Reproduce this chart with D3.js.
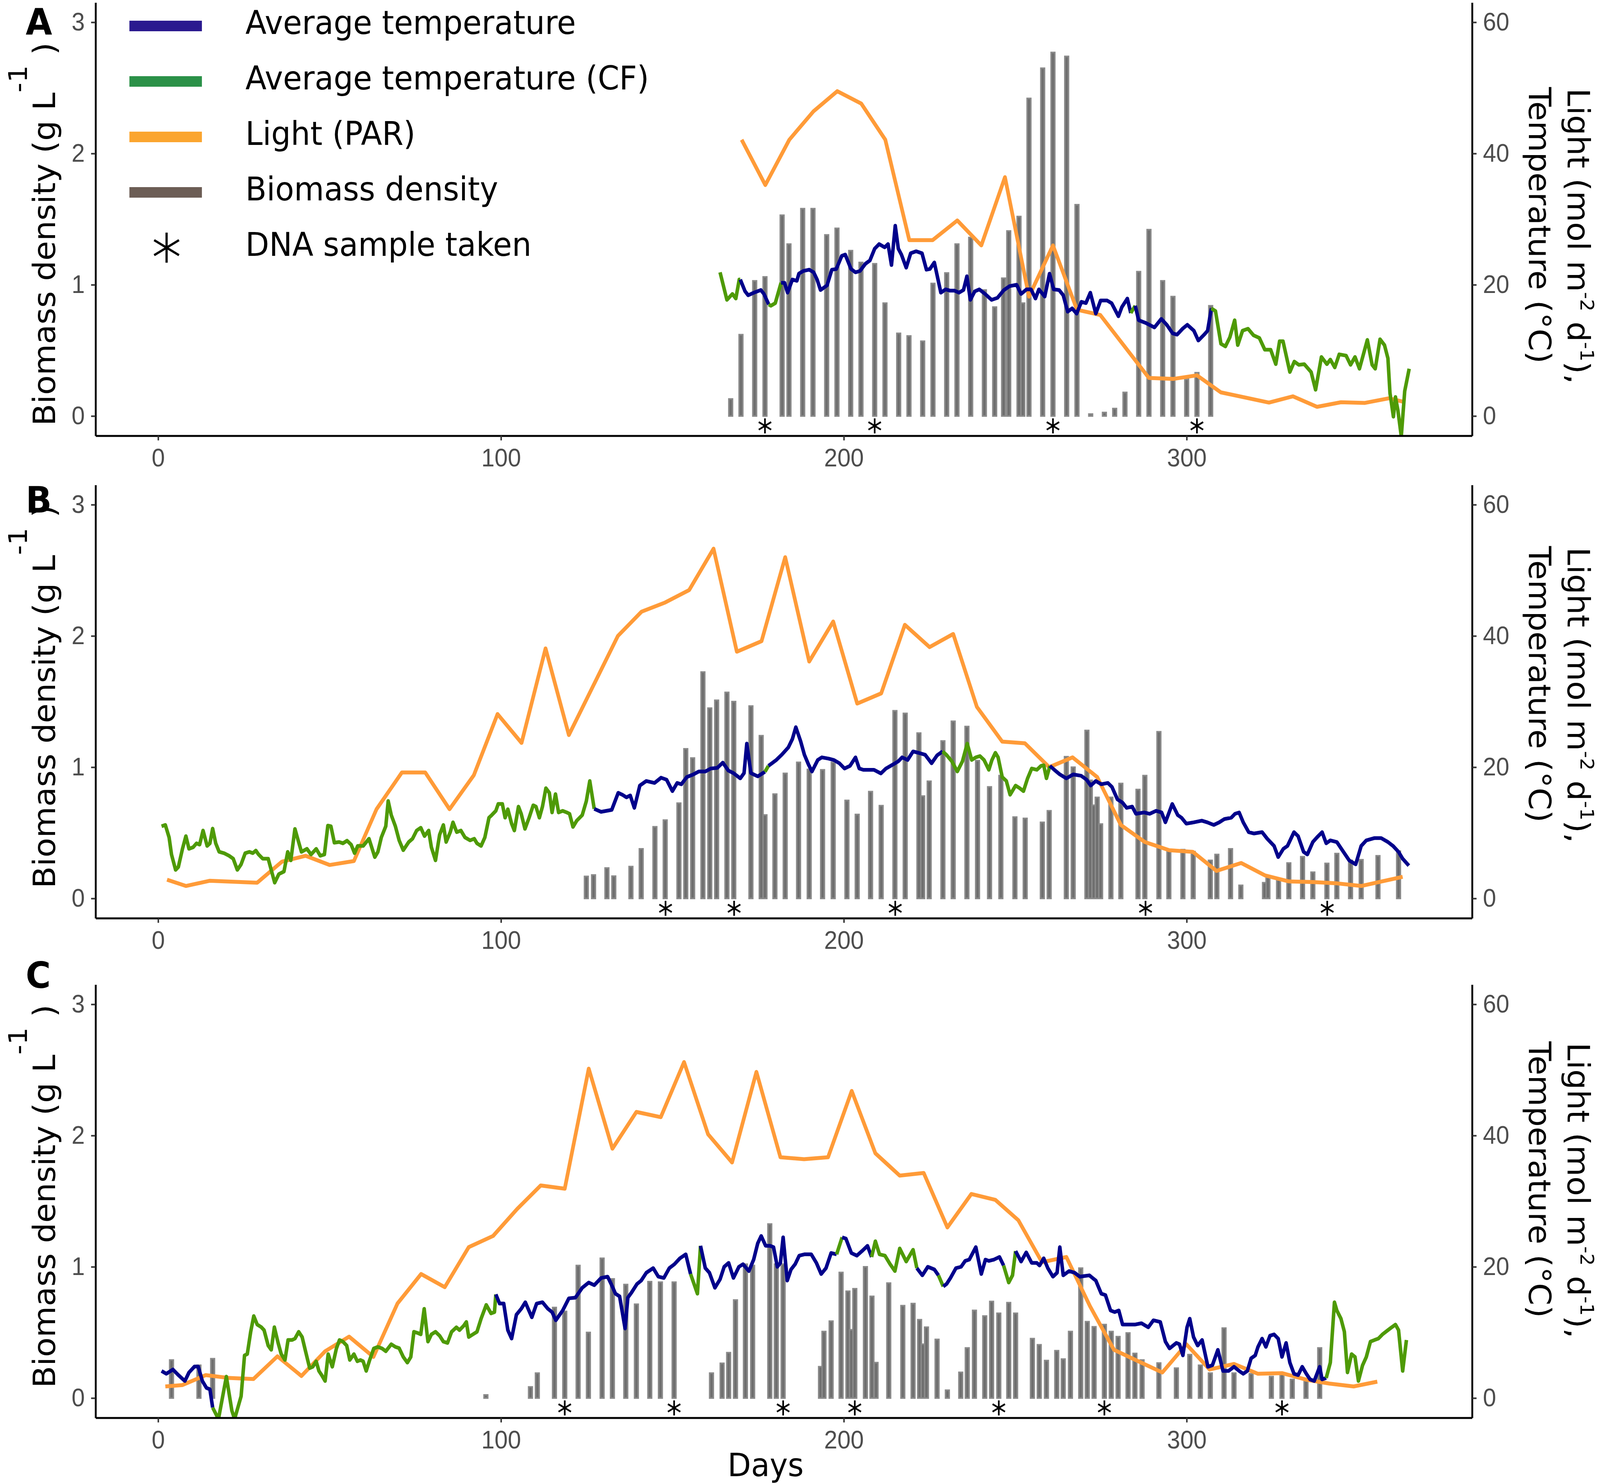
<!DOCTYPE html>
<html>
<head>
<meta charset="utf-8">
<script src="https://cdn.jsdelivr.net/npm/d3@7"></script>
<style>
  html, body { margin: 0; padding: 0; background: #fff; overflow: hidden; }
  svg { display: block; }
</style>
</head>
<body>
<div id="chart"></div>
<script>
// ---------------------------- DATA ---------------------------- //
const xTicks = [0, 100, 200, 300];
const leftTicks = [0, 1, 2, 3];
const rightTicks = [0, 20, 40, 60];

// biomass density (g/L) per sampling day
const barDaysA = [167,170,174,177,182,184,188,191,195,198,202,205,209,212,216,219,223,226,230,233,237,241,244,246.6,248.1,251.1,252.2,254,258,261,265,268,272,276,279,282,286,289,293,296,300,303,307];
const barValsA = [0.13,0.62,1.03,1.06,1.53,1.31,1.58,1.58,1.38,1.43,1.26,1.17,1.16,0.86,0.63,0.61,0.57,1.01,1.09,1.31,1.36,0.96,0.83,1.05,1.41,1.52,0.86,2.42,2.65,2.77,2.74,1.61,0.015,0.027,0.057,0.18,1.10,1.42,1.03,0.91,0.28,0.33,0.84];

const barDaysB = [124.9,127.0,130.9,132.9,137.9,140.9,144.9,147.9,151.9,153.9,155.9,158.9,160.9,162.9,165.9,167.9,172.9,175.9,177.0,179.9,182.9,186.8,189.9,193.8,196.9,200.9,203.9,207.8,210.9,214.9,217.9,221.9,223.0,224.9,228.9,231.9,235.9,239.0,242.5,245.8,249.9,252.9,257.9,259.9,264.9,266.9,270.9,271.9,272.9,273.9,274.9,277.9,280.8,285.8,287.8,291.9,294.8,298.9,301.9,306.9,308.8,312.8,315.8,322.7,323.7,326.8,329.8,333.8,336.8,340.9,343.8,347.8,350.9,355.8,361.8];
const barValsB = [0.168,0.179,0.232,0.17,0.243,0.378,0.546,0.597,0.726,1.14,1.07,1.725,1.45,1.51,1.57,1.50,1.466,1.24,0.636,0.795,0.953,1.037,0.983,0.98,1.037,0.747,0.64,0.814,0.707,1.43,1.41,1.26,0.78,0.893,1.20,1.35,1.31,1.05,0.85,0.936,0.62,0.61,0.58,0.668,1.08,1.0,1.28,0.90,0.71,0.77,0.567,0.77,0.876,0.83,0.936,1.27,0.372,0.372,0.357,0.29,0.335,0.378,0.10,0.12,0.16,0.14,0.27,0.318,0.20,0.267,0.342,0.29,0.295,0.325,0.36];

const barDaysC = [3.9,11.9,15.9,95.6,108.6,110.6,115.6,118.6,122.5,125.5,129.5,132.5,136.4,139.5,143.4,146.5,150.5,161.4,164.5,166.4,168.4,171.3,173.4,178.4,180.3,182.3,193.2,194.2,196.3,199.2,201.2,202.2,203.2,206.3,208.2,209.4,213.1,217.2,220.2,222.1,223.1,224.1,227.2,230.2,234.1,236.0,238.1,241.1,243.1,245.2,248.1,250.1,255.0,257.0,259.1,262.1,264.0,266.1,269.1,271.0,273.0,276.0,278.0,280.0,282.9,284.9,287.0,291.9,297.0,300.9,304.0,306.9,310.9,313.8,318.8,324.7,327.8,330.8,334.8,338.8];
const barValsC = [0.29,0.25,0.30,0.024,0.085,0.19,0.69,0.66,1.01,0.50,1.065,0.908,0.865,0.715,0.887,0.883,0.883,0.19,0.265,0.346,0.747,1.02,1.01,1.326,1.02,1.02,0.239,0.507,0.586,0.957,0.814,0.52,0.833,1.0,0.775,0.27,0.876,0.704,0.72,0.597,0.41,0.54,0.447,0.06,0.196,0.382,0.668,0.625,0.736,0.646,0.727,0.646,0.453,0.406,0.286,0.361,0.297,0.507,0.99,0.582,0.543,0.56,0.507,0.468,0.496,0.34,0.29,0.267,0.228,0.331,0.25,0.19,0.533,0.19,0.185,0.164,0.19,0.142,0.13,0.382];

// light (PAR, mol m-2 d-1)
const lightDaysA = [170.2,177.1,184.1,191.1,198.1,205.1,212.1,219.1,225.9,233.1,240.1,247,254,261,268,274.8,289,296,303,310,324,331,338,345,352,359,363];
const lightValsA = [42.1,35.2,42.1,46.4,49.5,47.6,42.1,26.8,26.8,29.8,26.0,36.4,18.2,26.0,16.2,15.4,5.8,5.65,6.2,3.6,2.05,3.0,1.4,2.1,2.0,2.7,2.2];

const lightDaysB = [2.6,8.1,15.1,28.9,36.1,43.0,50.0,57.1,63.7,71.1,77.9,85.0,92.1,99.0,106.0,113.0,119.8,134.1,141.0,147.9,154.9,162.0,168.8,176.0,182.9,189.9,196.9,203.9,210.9,217.8,225.0,231.9,238.8,246.2,252.8,259.9,266.7,273.9,280.8,287.8,294.9,301.8,308.7,315.9,322.9,329.8,336.8,343.8,350.9,363.0];
const lightValsB = [2.86,1.9,2.7,2.4,5.6,6.5,5.1,5.7,13.6,19.2,19.2,13.6,18.8,28.1,23.7,38.1,24.9,40.0,43.7,45.1,47.0,53.3,37.6,39.2,52.0,36.1,42.2,29.7,31.25,41.7,38.3,40.3,29.2,23.9,23.65,20.0,21.5,18.5,11.2,8.6,7.35,7.1,4.2,5.4,3.5,2.6,2.5,2.3,1.9,3.3];

const lightDaysC = [2.1,7.1,13.9,20.7,27.8,34.8,41.8,48.7,55.7,62.8,69.8,76.7,83.6,90.6,97.7,104.7,111.6,118.6,125.6,132.5,139.5,146.6,153.4,160.4,167.4,174.5,181.5,188.4,195.4,202.3,209.2,216.3,223.3,230.2,237.2,244.2,250.9,257.8,264.9,271.8,278.8,285.9,292.9,299.9,306.7,313.8,320.8,327.8,334.9,341.7,348.7,355.6];
const lightValsC = [1.77,1.98,3.5,3.06,2.9,6.36,3.36,7.13,9.36,6.27,14.4,18.9,16.9,23.0,24.7,28.8,32.4,31.9,50.2,38.0,43.6,42.8,51.2,40.2,35.9,49.7,36.7,36.4,36.7,46.8,37.3,33.9,34.3,26.0,31.1,30.2,27.1,20.7,21.5,14.0,7.35,5.6,3.9,8.2,4.35,5.2,3.7,3.8,2.8,2.2,1.77,2.5];

// average temperature (deg C): [day, value, cf] with cf = 1 for the CF series
const tempA = [
  [163.9,21.9,1],[165.9,17.7,1],[167.5,18.6,1],[168.5,17.9,1],[169.5,20.8,1],
  [169.8,20.8,0],[171.2,19.0,0],[172.1,18.4,0],[173.8,18.8,0],[175.8,19.2,0],[176.7,18.6,0],
  [178.1,17.0,1],[178.7,16.8,1],[180.0,17.2,1],
  [181.7,20.3,0],[182.7,20.3,0],[183.6,18.8,0],[185.0,20.8,0],[186.3,20.6,0],[186.9,21.7,0],[188.2,22.1,0],[189.9,22.3,0],[191.2,21.9,0],[192.2,20.8,0],[193.2,19.2,0],[195.1,19.9,0],[196.5,22.3,0],[197.8,22.4,0],[199.4,24.4,0],[200.4,24.6,0],[202.1,22.4,0],[203.4,21.9,0],[204.7,22.1,0],[206.3,23.2,0],[207.6,23.7,0],[209.0,25.5,0],[210.3,26.2,0],[211.9,25.7,0],[212.9,26.2,0],[213.9,23.0,0],[215.0,29.0,0],[215.9,25.5,0],[216.8,24.6,0],[218.2,22.6,0],[219.5,24.8,0],[221.1,25.1,0],[222.8,24.8,0],[224.1,22.3,0],[225.1,22.4,0],[226.4,23.4,0],[228.3,18.8,0],[229.7,19.3,0],[231.0,19.1,0],[232.3,19.1,0],[233.6,18.8,0],[234.9,19.2,0],[235.9,21.3,0],[236.9,17.7,0],[238.2,19.0,0],[239.5,19.3,0],[241.2,18.6,0],[243.1,17.7,0],[244.8,18.0,0],[246.7,19.2,0],[248.4,19.8,0],[250.4,20.0,0],[251.7,18.6,0],[253.3,19.3,0],[254.6,19.3,0],[255.9,17.9,0],[256.9,19.3,0],[258.6,18.2,0],[260.0,21.7,0],[261.2,19.3,0],[262.8,19.2,0],
  [264.0,18.4,0],[265.3,15.9,0],[266.6,16.4,0],[267.9,15.6,0],[269.3,17.4,0],[270.6,17.2,0],[271.9,18.8,0],[273.5,15.6,0],[274.9,17.6,0],[276.8,17.6,0],[278.1,17.2,0],[280.1,15.2,0],[281.1,16.6,0],[282.7,17.9,0],
  [283.7,15.7,1],
  [285.0,16.8,0],[286.0,14.6,0],[288.0,14.2,0],[290.6,13.5,0],[292.6,14.8,0],[294.2,13.9,0],[295.9,12.6,0],[297.2,12.4,0],[298.8,13.3,0],[300.2,13.9,0],[302.1,13.0,0],[303.4,11.5,0],[305.1,12.4,0],[306.1,13.0,0],
  [307.2,16.4,1],[308.4,16.0,1],[310.0,11.0,1],[311.3,10.6,1],[312.6,12.0,1],[314.0,14.6,1],[314.9,10.8,1],[316.3,13.0,1],[317.9,13.3,1],[319.5,12.3,1],[321.2,11.9,1],[322.8,10.1,1],[324.5,10.1,1],[326.0,7.9,1],[327.1,11.4,1],[328.1,11.4,1],[330.1,6.7,1],[331.4,8.3,1],[332.7,7.8,1],[334.3,7.9,1],[336.3,6.7,1],[337.6,4.0,1],[339.3,9.0,1],[340.9,7.9,1],[341.9,8.6,1],[343.2,7.4,1],[344.5,9.4,1],[346.5,9.2,1],[347.8,7.8,1],[349.1,9.0,1],[350.4,7.2,1],[352.7,11.6,1],[354.1,7.8,1],[355.0,7.2,1],[356.4,11.7,1],[357.7,10.8,1],[358.7,8.8,1],[359.3,3.5,1],[360.3,-0.1,1],[360.9,2.9,1],[361.6,0.9,1],[362.6,-3.1,1],[363.6,3.8,1],[364.9,7.2,1]
];

const tempB = [
  [1.0,11.0,1],[2.1,11.2,1],[3.2,9.3,1],[3.9,6.7,1],[5.1,4.35,1],[5.9,4.8,1],[7.1,7.56,1],[8.1,9.5,1],[9.0,7.56,1],[10.2,7.8,1],[11.2,8.4,1],[12.1,8.2,1],[13.1,10.35,1],[14.3,8.0,1],[15.1,8.4,1],[15.9,10.65,1],[16.8,8.4,1],[17.8,7.1,1],[19.2,6.9,1],[20.7,6.5,1],[21.9,6.06,1],[23.1,4.35,1],[24.2,5.2,1],[25.4,6.9,1],[26.6,7.1,1],[27.6,6.9,1],[28.5,7.3,1],[29.3,6.7,1],[30.5,6.06,1],[32.1,6.06,1],[34.0,2.4,1],[35.2,3.7,1],[36.7,4.1,1],[37.8,7.1,1],[38.7,5.8,1],[39.9,10.6,1],[40.6,9.3,1],[41.8,7.1,1],[43.4,7.56,1],[44.6,6.7,1],[46.1,7.56,1],[47.3,6.5,1],[48.5,6.7,1],[49.5,11.1,1],[50.4,11.0,1],[51.4,8.5,1],[52.8,8.6,1],[53.9,8.4,1],[55.1,8.8,1],[56.3,8.2,1],[57.3,6.9,1],[58.2,8.0,1],[59.8,8.0,1],[61.5,9.1,1],[63.2,6.3,1],[64.1,7.1,1],[65.1,9.3,1],[66.4,11.0,1],[67.1,14.85,1],[68.0,12.7,1],[69.2,11.0,1],[70.3,8.85,1],[71.5,7.35,1],[73.1,8.6,1],[74.2,9.1,1],[75.4,10.35,1],[76.6,10.78,1],[77.7,9.5,1],[78.9,10.35,1],[79.7,7.8,1],[80.9,5.8,1],[82.1,9.7,1],[83.2,11.2,1],[84.0,8.6,1],[85.2,10.1,1],[86.0,11.6,1],[87.1,10.1,1],[88.3,10.35,1],[89.5,9.3,1],[91.0,8.85,1],[92.2,9.1,1],[93.0,8.4,1],[94.2,8.0,1],[95.3,9.3,1],[96.5,12.3,1],[97.3,12.7,1],[98.5,13.35,1],[99.2,14.4,1],[100.4,14.4,1],[101.2,12.3,1],[102.0,13.6,1],[103.1,11.4,1],[103.9,10.35,1],[105.1,14.0,1],[105.9,12.9,1],[107.0,10.6,1],[108.2,12.3,1],[109.4,14.2,1],[110.2,14.0,1],[111.2,12.3,1],[112.1,14.0,1],[113.1,16.8,1],[114.1,16.1,1],[114.9,13.1,1],[115.9,15.9,1],[116.8,13.1,1],[118.0,13.35,1],[119.2,13.1,1],[120.0,12.9,1],[121.0,10.9,1],[122.1,11.85,1],[123.7,12.7,1],[124.9,14.85,1],[125.9,17.9,1],
  [127.2,13.65,0],[129.2,13.2,0],[132.3,13.5,0],[134.2,16.1,0],[135.4,15.8,0],[136.6,15.4,0],[137.7,15.7,0],[138.9,13.8,0],[140.5,17.2,0],[142.4,17.9,0],[144.8,17.6,0],[146.7,18.4,0],[148.3,18.1,0],[150.0,16.35,0],[151.4,17.6,0],[152.6,17.4,0],[154.2,18.5,0],[156.1,18.9,0],[157.7,19.35,0],[159.6,19.35,0],[161.2,19.8,0],[163.1,19.9,0],[164.7,20.7,0],[166.3,19.5,0],[167.8,19.1,0],[169.8,18.3,0],[170.9,19.1,0],[171.7,23.6,0],[172.9,19.1,0],[174.9,18.6,0],[176.4,19.1,0],
  [177.0,19.3,1],
  [178.0,20.2,0],[180.3,21.1,0],[181.9,21.9,0],[183.8,23.0,0],[185.0,24.3,0],[186.0,26.1,0],[187.4,23.95,0],[188.5,21.9,0],[189.7,20.4,0],[190.7,19.35,0],[192.4,21.1,0],[193.6,21.5,0],[195.6,21.3,0],[197.1,21.1,0],[198.7,20.6,0],[200.2,19.8,0],[201.8,20.2,0],[203.4,21.5,0],[204.5,19.8,0],[205.7,19.6,0],[207.3,19.6,0],[208.8,19.6,0],[210.8,19.05,0],[212.3,19.8,0],[214.3,20.4,0],[215.9,20.9,0],[217.0,21.5,0],[218.6,21.1,0],[220.2,22.4,0],[221.7,22.2,0],[223.7,21.9,0],[225.6,20.6,0],[227.2,21.8,0],
  [228.8,22.4,1],[229.9,21.9,1],[231.5,20.9,1],[233.1,19.35,1],[234.6,20.9,1],[236.0,23.6,1],[237.3,21.1,1],[238.5,21.5,1],[239.7,21.7,1],[240.9,21.1,1],[242.3,19.6,1],[243.2,21.1,1],[244.2,22.2,1],[245.0,21.5,1],[246.2,18.5,1],[247.4,17.9,1],[248.5,15.8,1],[250.1,17.2,1],[251.3,16.8,1],[252.4,16.35,1],[253.6,18.3,1],[254.8,19.8,1],[256.3,19.6,1],[257.5,20.2,1],[258.3,20.3,1],[259.1,18.3,1],
  [260.1,20.2,0],[261.4,19.6,0],[263.0,18.9,0],[264.9,18.3,0],[266.9,18.9,0],[269.2,18.7,0],[270.8,18.1,0],[272.0,17.2,0],[273.5,17.9,0],[275.1,17.4,0],[277.0,17.6,0],[278.2,17.0,0],[279.8,15.1,0],[281.3,14.6,0],[282.5,13.8,0],[284.1,14.0,0],[285.2,12.9,0],[287.6,13.1,0],[289.2,12.9,0],[291.1,13.35,0],[292.7,13.1,0],[293.8,11.6,0],[295.8,14.4,0],[297.4,12.7,0],[298.5,12.3,0],[299.9,11.4,0],[302.1,11.6,0],[304.4,11.85,0],[306.0,11.6,0],[307.9,11.2,0],[309.5,11.6,0],[311.0,12.1,0],[313.0,12.3,0],[314.1,12.9,0],[315.3,13.1,0],[316.5,11.6,0],[318.1,10.1,0],[319.6,9.9,0],[322.0,10.1,0],[323.5,9.1,0],[325.5,8.0,0],[326.7,6.3,0],[328.2,7.56,0],[329.4,8.0,0],[331.3,10.1,0],[332.5,9.5,0],[334.1,7.1,0],[335.2,6.7,0],[336.8,8.6,0],[338.0,9.3,0],[339.5,10.1,0],[340.7,8.4,0],[341.9,8.85,0],[343.8,8.6,0],[345.4,7.35,0],[347.4,5.8,0],[349.3,5.2,0],[350.9,8.0,0],[352.4,8.85,0],[354.8,9.2,0],[356.7,9.2,0],[358.7,8.6,0],[360.2,8.0,0],[361.8,7.1,0],[363.0,6.06,0],[364.8,5.0,0]
];

const tempC = [
  [1.0,4.13,0],[2.4,3.7,0],[4.3,4.35,0],[5.9,3.5,0],[7.8,2.6,0],[9.0,3.9,0],[10.6,4.8,0],[11.7,4.8,0],[12.9,2.6,0],[14.1,1.55,0],[15.1,1.34,0],
  [15.9,-1.45,1],[17.6,-3.2,1],[19.9,3.27,1],[21.5,-1.9,1],[22.3,-3.2,1],[24.2,0.27,1],[25.2,6.5,1],[26.0,6.7,1],[27.0,10.1,1],[27.9,12.5,1],[28.9,11.2,1],[30.1,10.8,1],[30.9,10.35,1],[32.1,8.0,1],[33.0,7.35,1],[33.9,10.8,1],[35.0,8.4,1],[35.9,6.7,1],[37.0,5.8,1],[37.9,8.85,1],[39.1,8.85,1],[39.9,9.06,1],[41.0,10.1,1],[42.0,9.3,1],[43.0,7.13,1],[44.2,4.56,1],[45.1,4.77,1],[46.1,5.6,1],[46.9,4.13,1],[47.7,3.5,1],[48.7,2.6,1],[49.6,6.7,1],[50.8,4.77,1],[52.0,7.56,1],[52.9,8.85,1],[53.9,8.6,1],[55.0,8.0,1],[55.9,5.8,1],[57.1,6.7,1],[58.1,5.6,1],[59.0,5.8,1],[59.8,5.6,1],[60.7,4.13,1],[61.7,5.8,1],[62.9,7.56,1],[64.1,7.8,1],[65.3,7.56,1],[66.4,7.13,1],[68.0,8.2,1],[69.2,7.8,1],[70.3,7.6,1],[71.5,6.27,1],[72.7,5.4,1],[73.7,6.27,1],[74.6,10.1,1],[75.8,9.9,1],[76.6,9.7,1],[77.6,13.6,1],[78.7,8.6,1],[79.7,9.7,1],[80.9,10.1,1],[82.1,9.5,1],[83.2,8.6,1],[84.4,8.4,1],[85.6,10.1,1],[87.0,10.78,1],[87.9,10.35,1],[89.1,11.0,1],[89.9,11.6,1],[90.6,9.3,1],[91.8,9.7,1],[93.0,10.1,1],[94.2,12.1,1],[95.7,14.2,1],[97.1,12.9,1],[98.1,13.1,1],
  [98.5,15.8,0],[99.6,14.4,0],[100.8,14.4,0],[102.0,10.35,0],[103.1,9.06,0],[104.5,12.7,0],[105.9,13.6,0],[107.1,14.6,0],[109.0,12.3,0],[110.4,14.4,0],[112.1,14.6,0],[113.7,13.6,0],[114.9,13.1,0],[116.0,11.85,0],[118.0,13.35,0],[119.8,15.2,0],[121.7,15.3,0],[123.7,16.8,0],[125.6,17.6,0],[127.2,17.2,0],[129.2,18.3,0],[131.1,18.5,0],[132.3,17.2,0],[133.4,15.9,0],[134.6,15.5,0],[136.2,10.6,0],[137.0,15.3,0],[138.1,16.1,0],[139.7,17.4,0],[140.9,17.9,0],[142.4,19.1,0],[144.4,19.8,0],[145.9,18.5,0],[147.5,18.3,0],[149.1,19.8,0],[150.6,20.4,0],[152.2,21.3,0],[153.9,21.9,0],
  [155.3,18.9,1],[157.3,15.9,1],
  [158.2,23.2,0],[159.6,19.8,0],[160.8,19.1,0],[162.4,16.8,0],[163.9,18.1,0],[165.1,20.0,0],[166.4,20.6,0],[167.8,18.3,0],[169.4,20.0,0],[170.6,20.4,0],[172.3,19.35,0],[173.7,21.1,0],[174.9,23.6,0],[175.9,24.7,0],[177.2,23.2,0],[178.5,23.2,0],[179.5,23.0,0],[180.6,20.0,0],[181.5,20.6,0],[182.3,24.5,0],[183.5,17.9,0],[184.6,19.6,0],[185.8,20.4,0],[187.0,21.7,0],[188.5,21.9,0],[190.5,21.9,0],[192.0,20.6,0],[193.4,18.9,0],[194.8,19.8,0],[196.3,22.1,0],
  [197.9,21.9,1],
  [199.5,24.5,0],[200.6,24.3,0],[202.2,22.1,0],[203.8,21.7,0],[205.3,22.4,0],[206.9,23.2,0],
  [208.1,21.5,1],[209.2,23.9,1],[210.4,21.9,1],[212.0,21.7,1],[213.5,20.4,1],[214.9,19.35,1],[216.3,22.8,1],[218.2,20.8,1],[220.2,22.6,1],
  [221.3,19.8,0],[222.9,18.7,0],[224.5,20.0,0],[226.4,19.6,0],
  [227.6,18.7,1],
  [229.0,17.0,0],[230.0,17.4,0],[231.1,18.3,0],[232.7,19.8,0],[234.2,20.0,0],[235.4,20.9,0],[236.6,21.1,0],[238.5,23.0,0],[240.1,18.9,0],[241.3,21.1,0],[242.3,20.9,0],[243.8,21.1,0],[245.4,21.5,0],
  [246.6,20.2,1],[248.1,17.6,1],[249.2,18.7,1],
  [250.1,22.4,0],[251.7,20.8,0],[253.2,22.2,0],[254.8,20.6,0],[256.3,20.6,0],[257.1,20.2,0],[258.3,21.3,0],[259.5,19.8,0],[261.0,18.5,0],[262.2,19.1,0],[263.0,23.0,0],[264.0,18.7,0],[265.7,19.35,0],[267.3,19.1,0],[268.8,18.5,0],[271.6,18.7,0],[273.5,17.9,0],[275.1,15.9,0],[276.3,15.7,0],[277.8,13.35,0],[279.0,13.1,0],[280.2,13.35,0],[281.3,11.2,0],[282.9,11.2,0],[284.9,11.2,0],[286.8,11.4,0],[288.8,10.78,0],[290.3,11.85,0],[292.3,11.6,0],[293.8,8.6,0],[295.0,7.56,0],[297.0,8.4,0],[297.9,8.2,0],[298.9,6.5,0],[300.1,10.78,0],[300.9,12.1,0],[302.0,9.3,0],[303.2,8.0,0],[304.5,8.85,0],[306.2,4.77,0],[307.5,5.0,0],[309.1,7.35,0],[310.6,4.13,0],[312.2,4.13,0],[313.8,4.77,0],[315.3,4.13,0],[316.5,3.7,0],[317.7,4.13,0],[318.8,6.06,0],[320.0,6.5,0],[320.8,7.8,0],[322.0,9.06,0],[323.1,7.8,0],[324.3,9.5,0],[325.5,9.7,0],[326.7,9.06,0],[327.8,6.27,0],[329.0,8.4,0],[330.1,5.4,0],[331.3,3.7,0],[332.5,3.5,0],[333.7,4.77,0],[334.9,3.7,0],[336.0,2.84,0],[337.2,2.6,0],[338.8,4.77,0],[339.5,2.84,0],
  [340.7,3.06,1],[341.9,5.4,1],[343.1,14.6,1],[343.8,13.35,1],[345.0,12.1,1],[346.0,10.1,1],[346.9,3.9,1],[348.1,6.7,1],[349.1,6.27,1],[350.1,2.6,1],[351.3,4.98,1],[352.4,6.27,1],[353.6,8.6,1],[354.8,8.85,1],[355.9,9.06,1],[357.1,9.7,1],[358.7,10.35,1],[359.8,10.78,1],[360.9,11.2,1],[361.8,10.35,1],[363.0,4.13,1],[364.1,8.85,1]
];

// days a DNA sample was taken
const dnaA = [177, 209, 261, 303];
const dnaB = [148, 168, 215, 288, 341];
const dnaC = [118.6, 150.5, 182.3, 203.2, 245.2, 276.0, 327.8];

const legendLabels = ["Average temperature", "Average temperature (CF)", "Light (PAR)", "Biomass density", "DNA sample taken"];

//------------------------ PREPARATION ------------------------//
const W = 4303, H = 3799;
const xL = 257, xR = 3959;
const unit = 336;            // px per g/L
const tickFont = "'Liberation Sans', Arial, sans-serif";
const titleFont = "'DejaVu Sans', sans-serif";

const colTemp = "#00008b", colCF = "#4e9a06", colLight = "#ff9b38";
const legendCols = ["#2b1a8f", "#2b9148", "#fba52f", "#6c5d55"];

// fit the drawing to whatever the window really is
const vw = window.innerWidth || W;
const vh = window.innerHeight || H;

const svg = d3.select("#chart").append("svg")
    .attr("width", vw).attr("height", vh)
    .attr("viewBox", `0 0 ${W} ${H}`)
    .attr("preserveAspectRatio", "none");

svg.append("rect").attr("width", W).attr("height", H).attr("fill", "#fff");

const x = d3.scaleLinear().domain([-18.25, 383.25]).range([xL, xR]);

const panels = [
  { label: "A", y0: 1065, labelY: 88,   leftStart: 1090, rightStart: 226,
    barDays: barDaysA, barVals: barValsA, lightDays: lightDaysA, lightVals: lightValsA, temp: tempA, dna: dnaA },
  { label: "B", y0: 2300, labelY: 1312, leftStart: 2274, rightStart: 1401,
    barDays: barDaysB, barVals: barValsB, lightDays: lightDaysB, lightVals: lightValsB, temp: tempB, dna: dnaB },
  { label: "C", y0: 3579, labelY: 2529, leftStart: 3553, rightStart: 2669,
    barDays: barDaysC, barVals: barValsC, lightDays: lightDaysC, lightVals: lightValsC, temp: tempC, dna: dnaC }
];

// split the temperature path into runs of one colour
function runs(pts) {
  const out = [];
  let cur = null;
  for (let i = 0; i < pts.length - 1; i++) {
    const f = pts[i][2];
    if (!cur || cur.cf !== f) {
      cur = { cf: f, pts: [pts[i]] };
      out.push(cur);
    }
    cur.pts.push(pts[i + 1]);
  }
  return out;
}

function styleAxis(g) {
  g.attr("font-family", tickFont).attr("font-size", 64);
  g.select(".domain").attr("stroke", "#000").attr("stroke-width", 5);
  g.selectAll(".tick line").attr("stroke", "#333").attr("stroke-width", 4);
  g.selectAll(".tick text").attr("fill", "#4d4d4d");
}

//-------------------------- DRAWING --------------------------//
panels.forEach(function(p) {
  const y = d3.scaleLinear().domain([-0.15, 3.15])
      .range([p.y0 + 0.15 * unit, p.y0 - 3.15 * unit]);
  const yR = d3.scaleLinear().domain([-3, 63]).range(y.range());
  const top = y.range()[1], bottom = y.range()[0];

  const clipId = "clip" + p.label;
  svg.append("clipPath").attr("id", clipId)
    .append("rect")
      .attr("x", xL).attr("y", top)
      .attr("width", xR - xL).attr("height", bottom - top);

  const plot = svg.append("g").attr("clip-path", `url(#${clipId})`);

  // bars
  plot.selectAll(".bar")
    .data(d3.zip(p.barDays, p.barVals))
    .join("rect")
      .attr("x", d => x(d[0] - 0.54))
      .attr("width", x(0.54) - x(-0.54))
      .attr("y", d => y(d[1]))
      .attr("height", d => y(0) - y(d[1]))
      .attr("fill", "#6e6e6e")
      .attr("stroke", "#8a8a8a")
      .attr("stroke-width", 4);

  // light
  const lightLine = d3.line()
      .x(d => x(d[0]))
      .y(d => yR(d[1]));
  plot.append("path")
      .datum(d3.zip(p.lightDays, p.lightVals))
      .attr("d", lightLine)
      .attr("fill", "none")
      .attr("stroke", colLight)
      .attr("stroke-width", 10)
      .attr("stroke-linejoin", "round");

  // temperature
  const tempLine = d3.line()
      .x(d => x(d[0]))
      .y(d => yR(d[1]));
  plot.selectAll(".temp")
    .data(runs(p.temp))
    .join("path")
      .attr("d", d => tempLine(d.pts))
      .attr("fill", "none")
      .attr("stroke", d => d.cf ? colCF : colTemp)
      .attr("stroke-width", 9.5)
      .attr("stroke-linejoin", "round");

  // DNA samples
  svg.append("g").selectAll("path")
    .data(p.dna)
    .join("path")
      .attr("transform", d => `translate(${x(d)},${y(-0.075)})`)
      .attr("d", d3.symbol().type(d3.symbolAsterisk).size(1050))
      .attr("fill", "none")
      .attr("stroke", "#000")
      .attr("stroke-width", 4.5);

  // axes
  svg.append("g")
      .attr("transform", `translate(0,${bottom})`)
      .call(d3.axisBottom(x).tickValues(xTicks).tickFormat(d3.format("d"))
            .tickSize(12).tickSizeOuter(0).tickPadding(21))
      .call(styleAxis);

  svg.append("g")
      .attr("transform", `translate(${xL},0)`)
      .call(d3.axisLeft(y).tickValues(leftTicks).tickFormat(d3.format("d"))
            .tickSize(12).tickSizeOuter(0).tickPadding(17))
      .call(styleAxis);

  svg.append("g")
      .attr("transform", `translate(${xR},0)`)
      .call(d3.axisRight(yR).tickValues(rightTicks).tickFormat(d3.format("d"))
            .tickSize(12).tickSizeOuter(0).tickPadding(17))
      .call(styleAxis);

  // panel letter
  svg.append("text")
      .attr("x", 69).attr("y", p.labelY)
      .attr("font-family", titleFont).attr("font-weight", "bold").attr("font-size", 92)
      .text(p.label);

  // left title
  const lt = svg.append("text")
      .attr("transform", `translate(148,${p.leftStart}) rotate(-90)`)
      .attr("font-family", titleFont).attr("font-size", 82).attr("fill", "#000");
  lt.append("tspan").text("Biomass density (g L");
  lt.append("tspan").attr("dy", -76).attr("font-size", 70).text("-1");
  lt.append("tspan").attr("dy", 76).text(" )");

  // right title, two lines
  const rt1 = svg.append("text")
      .attr("transform", `translate(4216,${p.rightStart}) rotate(90)`)
      .attr("font-family", titleFont).attr("font-size", 82).attr("fill", "#000");
  rt1.append("tspan").text("Light (mol m");
  rt1.append("tspan").attr("dy", -34).attr("font-size", 50).text("-2");
  rt1.append("tspan").attr("dy", 34).text(" d");
  rt1.append("tspan").attr("dy", -34).attr("font-size", 50).text("-1");
  rt1.append("tspan").attr("dy", 34).text("),");

  svg.append("text")
      .attr("transform", `translate(4112,${p.rightStart - 3}) rotate(90)`)
      .attr("font-family", titleFont).attr("font-size", 82).attr("fill", "#000")
      .text("Temperature (°C)");
});

// x axis title
svg.append("text")
    .attr("x", 2059).attr("y", 3779)
    .attr("text-anchor", "middle")
    .attr("font-family", titleFont).attr("font-size", 82)
    .text("Days");

//--------------------------- LEGEND --------------------------//
const legend = svg.append("g");
const rowY = i => 66 + 142 * i;

legend.selectAll(".key")
  .data(legendCols)
  .join("rect")
    .attr("x", 348).attr("width", 195)
    .attr("y", (d, i) => rowY(i) - 13).attr("height", 27)
    .attr("fill", d => d);

legend.append("path")
    .attr("transform", `translate(448,${rowY(4)})`)
    .attr("d", d3.symbol().type(d3.symbolAsterisk).size(4200))
    .attr("fill", "none")
    .attr("stroke", "#000")
    .attr("stroke-width", 6);

legend.selectAll(".lab")
  .data(legendLabels)
  .join("text")
    .attr("x", 660)
    .attr("y", (d, i) => rowY(i) + 21)
    .attr("font-family", titleFont).attr("font-size", 83)
    .text(d => d);
</script>
</body>
</html>
